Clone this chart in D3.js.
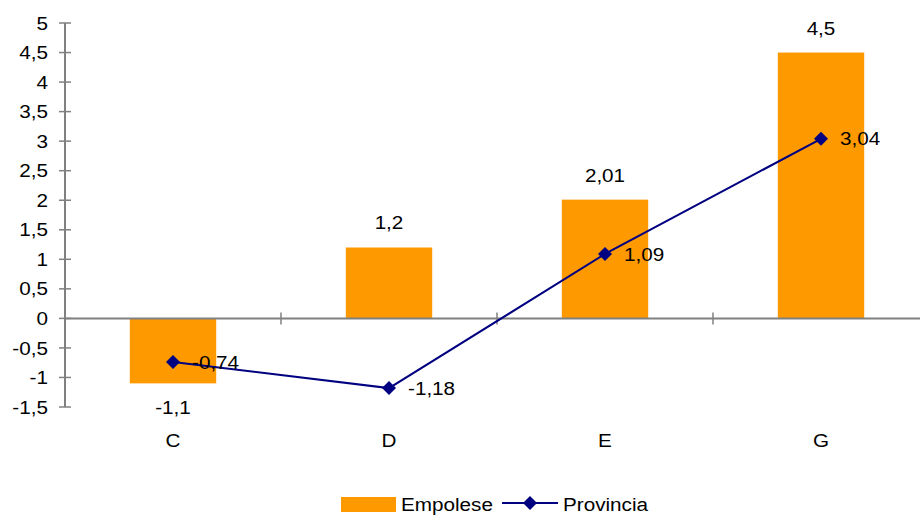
<!DOCTYPE html>
<html><head><meta charset="utf-8">
<script src="https://cdn.jsdelivr.net/npm/d3@7"></script>
<style>body{margin:0;background:#fff}svg{display:block;font-family:"Liberation Sans",Arial,sans-serif}</style>
</head><body><svg id="c" width="920" height="516"></svg>
<script>
const categories = ["C","D","E","G"];
const empolese = [-1.1, 1.2, 2.01, 4.5];
const provincia = [-0.74, -1.18, 1.09, 3.04];
const yTicks = [-1.5,-1,-0.5,0,0.5,1,1.5,2,2.5,3,3.5,4,4.5,5];
const seriesNames = ["Empolese","Provincia"];

const fmt = v => String(v).replace(".", ",");
const svg = d3.select("#c");
const x = d3.scaleBand().domain(categories).range([65, 929]).paddingInner(0).paddingOuter(0);
const y = d3.scaleLinear().domain([-1.5, 5]).range([407, 23]);
const axisColor = "#808080";
const fs = 18.8;
const sx = 1.1;

function txt(g, px, py, s, anchor, dy) {
  return g.append("text")
    .attr("transform", `translate(${px},${py}) scale(${sx},1)`)
    .attr("text-anchor", anchor || "start")
    .attr("dy", dy || 0)
    .attr("font-size", fs).attr("fill", "#000").text(s);
}

// bars
const bw = x.bandwidth() * 0.4;
svg.selectAll("rect.bar").data(empolese).enter().append("rect")
  .attr("x", (d,i) => x(categories[i]) + x.bandwidth()/2 - bw/2)
  .attr("y", d => y(Math.max(0,d)))
  .attr("width", bw)
  .attr("height", d => Math.abs(y(d) - y(0)))
  .attr("fill", "#FF9900");

// y axis
const yAxis = svg.append("g");
yAxis.append("line").attr("x1",65).attr("x2",65).attr("y1",y(5)).attr("y2",y(-1.5)).attr("stroke",axisColor).attr("stroke-width",2);
yTicks.forEach(t => {
  yAxis.append("line").attr("x1",59).attr("x2",71).attr("y1",y(t)).attr("y2",y(t)).attr("stroke",axisColor).attr("stroke-width",1.5);
  txt(yAxis, 48, y(t), fmt(t), "end", "0.35em");
});

// x axis
const xAxis = svg.append("g");
xAxis.append("line").attr("x1",65).attr("x2",929).attr("y1",y(0)).attr("y2",y(0)).attr("stroke",axisColor).attr("stroke-width",2);
categories.forEach((c,i) => {
  const bx = x(c);
  xAxis.append("line").attr("x1",bx).attr("x2",bx).attr("y1",y(0)-6).attr("y2",y(0)+6).attr("stroke",axisColor).attr("stroke-width",1.5);
  txt(xAxis, bx + x.bandwidth()/2, 447, c, "middle");
});

// bar labels
const bl = svg.append("g");
empolese.forEach((d,i) => {
  txt(bl, x(categories[i]) + x.bandwidth()/2, d >= 0 ? y(d) - 18 : y(d) + 31, fmt(d), "middle");
});

// line
const cx = i => x(categories[i]) + x.bandwidth()/2;
const line = d3.line().x((d,i)=>cx(i)).y(d=>y(d));
svg.append("path").datum(provincia).attr("d",line).attr("fill","none").attr("stroke","#000080").attr("stroke-width",2);
const dpath = "M0,-7L7,0L0,7L-7,0Z";
svg.selectAll("path.pt").data(provincia).enter().append("path")
  .attr("d", dpath).attr("transform",(d,i)=>`translate(${cx(i)},${y(d)})`).attr("fill","#000080");
const pl = svg.append("g");
provincia.forEach((d,i) => { txt(pl, cx(i)+19, y(d), fmt(d), "start", "0.35em"); });

// legend
const lg = svg.append("g");
lg.append("rect").attr("x",341).attr("y",497).attr("width",55).attr("height",15).attr("fill","#FF9900");
txt(lg, 401, 511, seriesNames[0], "start");
lg.append("line").attr("x1",502).attr("x2",558).attr("y1",503).attr("y2",503).attr("stroke","#000080").attr("stroke-width",2);
lg.append("path").attr("d",dpath).attr("transform","translate(530,503)").attr("fill","#000080");
txt(lg, 563, 511, seriesNames[1], "start");
</script></body></html>
